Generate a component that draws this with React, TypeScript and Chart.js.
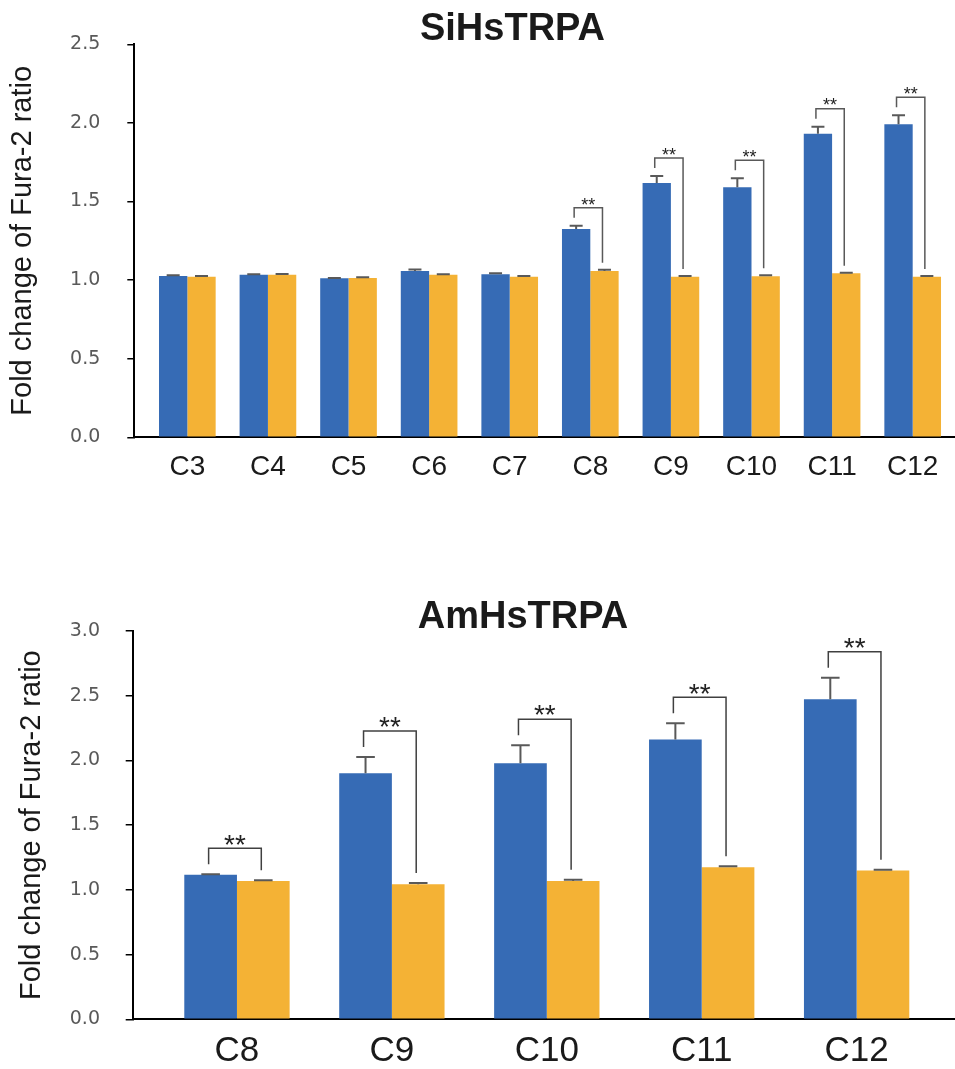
import React, { useEffect, useRef } from "react";
import { Chart, registerables } from "chart.js";

Chart.register(...registerables);

// ---------- Data: SiHsTRPA (top) ----------
const topCategories = ["C3", "C4", "C5", "C6", "C7", "C8", "C9", "C10", "C11", "C12"];
const topBlue = [1.026, 1.034, 1.011, 1.058, 1.037, 1.325, 1.618, 1.59, 1.931, 1.991];
const topBlueErr = [0.005, 0.004, 0.003, 0.01, 0.007, 0.02, 0.045, 0.058, 0.045, 0.057];
const topOrange = [1.022, 1.034, 1.013, 1.034, 1.022, 1.058, 1.022, 1.025, 1.043, 1.022];
const topOrangeErr = [0.004, 0.005, 0.005, 0.004, 0.004, 0.008, 0.004, 0.006, 0.004, 0.004];
const topSig = ["", "", "", "", "", "**", "**", "**", "**", "**"];
const topTitle = "SiHsTRPA";
const topYMax = 2.5;

// ---------- Data: AmHsTRPA (bottom) ----------
const bottomCategories = ["C8", "C9", "C10", "C11", "C12"];
const bottomBlue = [1.117, 1.901, 1.978, 2.161, 2.473];
const bottomBlueErr = [0.004, 0.126, 0.14, 0.126, 0.165];
const bottomOrange = [1.069, 1.043, 1.069, 1.175, 1.149];
const bottomOrangeErr = [0.005, 0.01, 0.009, 0.008, 0.007];
const bottomSig = ["**", "**", "**", "**", "**"];
const bottomTitle = "AmHsTRPA";
const bottomYMax = 3.0;

const yTitle = "Fold change of Fura-2 ratio";
const yStep = 0.5;

const BLUE = "#366BB5";
const ORANGE = "#F4B235";

const annotPlugin = {
  id: "annot",
  afterDatasetsDraw(chart: any, _args: any, opts: any) {
    const ctx = chart.ctx;
    const y = chart.scales.y;
    const ds = chart.data.datasets;
    const m0 = chart.getDatasetMeta(0);
    const m1 = chart.getDatasetMeta(1);
    ctx.save();
    // error bars (upper only)
    [0, 1].forEach((d) => {
      const meta = chart.getDatasetMeta(d);
      const errs = opts.errors[d];
      meta.data.forEach((bar: any, i: number) => {
        const v = ds[d].data[i];
        const top = y.getPixelForValue(v + errs[i]);
        ctx.strokeStyle = opts.errColor;
        ctx.lineWidth = opts.errWidth;
        ctx.beginPath();
        ctx.moveTo(bar.x, bar.y);
        ctx.lineTo(bar.x, top);
        ctx.moveTo(bar.x - opts.capHalf, top);
        ctx.lineTo(bar.x + opts.capHalf, top);
        ctx.stroke();
      });
    });
    // significance brackets
    ctx.font = opts.starFont;
    ctx.fillStyle = opts.starColor;
    ctx.textAlign = "center";
    ctx.textBaseline = "alphabetic";
    opts.sig.forEach((s: string, i: number) => {
      if (!s) return;
      const b = m0.data[i];
      const o = m1.data[i];
      const bTop = y.getPixelForValue(ds[0].data[i] + opts.errors[0][i]);
      const oTop = y.getPixelForValue(ds[1].data[i] + opts.errors[1][i]);
      const yb = bTop - opts.rise;
      const xl = b.x - opts.legShift;
      const xr = o.x - opts.legShift;
      ctx.strokeStyle = opts.bracketColor;
      ctx.lineWidth = opts.bracketWidth;
      ctx.beginPath();
      ctx.moveTo(xl, bTop - opts.leftGap);
      ctx.lineTo(xl, yb);
      ctx.lineTo(xr, yb);
      ctx.lineTo(xr, oTop - opts.rightGap);
      ctx.stroke();
      ctx.fillText(s, (xl + xr) / 2, yb + opts.starDy);
    });
    // chart title
    ctx.font = opts.titleFont;
    ctx.fillStyle = "#1a1a1a";
    ctx.textAlign = "center";
    ctx.fillText(opts.title, opts.titleX, opts.titleY);
    ctx.restore();
  },
};

type PanelProps = {
  categories: string[];
  blue: number[];
  blueErr: number[];
  orange: number[];
  orangeErr: number[];
  sig: string[];
  title: string;
  yMax: number;
  height: number;
  cfg: any;
};

function Panel(p: PanelProps) {
  const ref = useRef<HTMLCanvasElement>(null);
  useEffect(() => {
    if (!ref.current) return;
    const c = p.cfg;
    const chart = new Chart(ref.current, {
      type: "bar",
      data: {
        labels: p.categories.map((_, i) => i),
        datasets: [
          { data: p.blue, backgroundColor: BLUE, borderWidth: 0 },
          { data: p.orange, backgroundColor: ORANGE, borderWidth: 0 },
        ],
      },
      plugins: [annotPlugin],
      options: {
        responsive: false,
        animation: false,
        events: [],
        categoryPercentage: c.catPct,
        barPercentage: 1,
        layout: { padding: { top: c.areaTop, left: 0, right: 0, bottom: 0 } },
        plugins: {
          legend: { display: false },
          tooltip: { enabled: false },
          title: { display: false },
          annot: {
            errors: [p.blueErr, p.orangeErr],
            sig: p.sig,
            errColor: "#595959",
            errWidth: 2,
            capHalf: c.capHalf,
            bracketColor: c.bracketColor,
            bracketWidth: 1.5,
            rise: c.rise,
            leftGap: c.leftGap,
            rightGap: c.rightGap,
            legShift: 2,
            starFont: c.starFont,
            starColor: "#222",
            starDy: c.starDy,
            title: p.title,
            titleFont: "bold 38px 'Liberation Sans', Arial, sans-serif",
            titleX: c.titleX,
            titleY: c.titleY,
          },
        } as any,
        scales: {
          x: {
            type: "linear",
            min: c.xMin,
            max: c.xMax,
            offset: false,
            afterFit: (s: any) => {
              s.height = c.xAxisHeight;
            },
            grid: { display: false, drawTicks: false, offset: false },
            border: { display: true, color: "#000", width: 2 },
            ticks: {
              stepSize: 1,
              includeBounds: false,
              autoSkip: false,
              maxRotation: 0,
              minRotation: 0,
              padding: c.xPad,
              color: "#1a1a1a",
              font: { family: "'Liberation Sans', Arial, sans-serif", size: c.xFont },
              callback: (v: any) =>
                Number.isInteger(v) && p.categories[v] !== undefined ? p.categories[v] : "",
            },
          },
          y: {
            type: "linear",
            min: 0,
            max: p.yMax,
            afterFit: (s: any) => {
              s.width = c.yAxisWidth;
            },
            grid: {
              display: true,
              drawOnChartArea: false,
              drawTicks: true,
              tickLength: 7,
              color: "#000",
              lineWidth: 1.5,
            },
            border: { display: true, color: "#000", width: 2 },
            ticks: {
              stepSize: yStep,
              padding: c.yPad,
              color: "#595959",
              font: { family: "'DejaVu Sans', sans-serif", size: 19 },
              callback: (v: any) => Number(v).toFixed(1),
            },
            title: {
              display: true,
              text: yTitle,
              color: "#1a1a1a",
              font: { family: "'Liberation Sans', Arial, sans-serif", size: 29 },
              padding: { top: c.yTitlePad, bottom: 0 },
            },
          },
        },
      },
    } as any);
    return () => chart.destroy();
  }, []);
  return <canvas ref={ref} width={955} height={p.height} style={{ display: "block" }} />;
}

const topCfg = {
  catPct: 0.703,
  areaTop: 44.3,
  xAxisHeight: 102.7,
  yAxisWidth: 134.3,
  xMin: -0.658,
  xMax: 9.525,
  xPad: 13,
  xFont: 28,
  yPad: 27,
  yTitlePad: 5.6,
  capHalf: 6.5,
  bracketColor: "#595959",
  rise: 18,
  leftGap: 8,
  rightGap: 7,
  starFont: "18px 'Liberation Sans', Arial, sans-serif",
  starDy: 2.7,
  titleX: 512.5,
  titleY: 40,
};

const bottomCfg = {
  catPct: 0.68,
  areaTop: 91,
  xAxisHeight: 49.7,
  yAxisWidth: 132.7,
  xMin: -0.673,
  xMax: 4.635,
  xPad: 11.4,
  xFont: 35,
  yPad: 25.7,
  yTitlePad: 14.1,
  capHalf: 9.3,
  bracketColor: "#404040",
  rise: 26,
  leftGap: 10,
  rightGap: 10,
  starFont: "28px 'Liberation Sans', Arial, sans-serif",
  starDy: 5.3,
  titleX: 523,
  titleY: 88.3,
};

export default function App() {
  return (
    <div style={{ position: "absolute", left: 0, top: 0, width: 955, height: 1069, background: "#fff" }}>
      <Panel
        categories={topCategories}
        blue={topBlue}
        blueErr={topBlueErr}
        orange={topOrange}
        orangeErr={topOrangeErr}
        sig={topSig}
        title={topTitle}
        yMax={topYMax}
        height={540}
        cfg={topCfg}
      />
      <Panel
        categories={bottomCategories}
        blue={bottomBlue}
        blueErr={bottomBlueErr}
        orange={bottomOrange}
        orangeErr={bottomOrangeErr}
        sig={bottomSig}
        title={bottomTitle}
        yMax={bottomYMax}
        height={529}
        cfg={bottomCfg}
      />
    </div>
  );
}
